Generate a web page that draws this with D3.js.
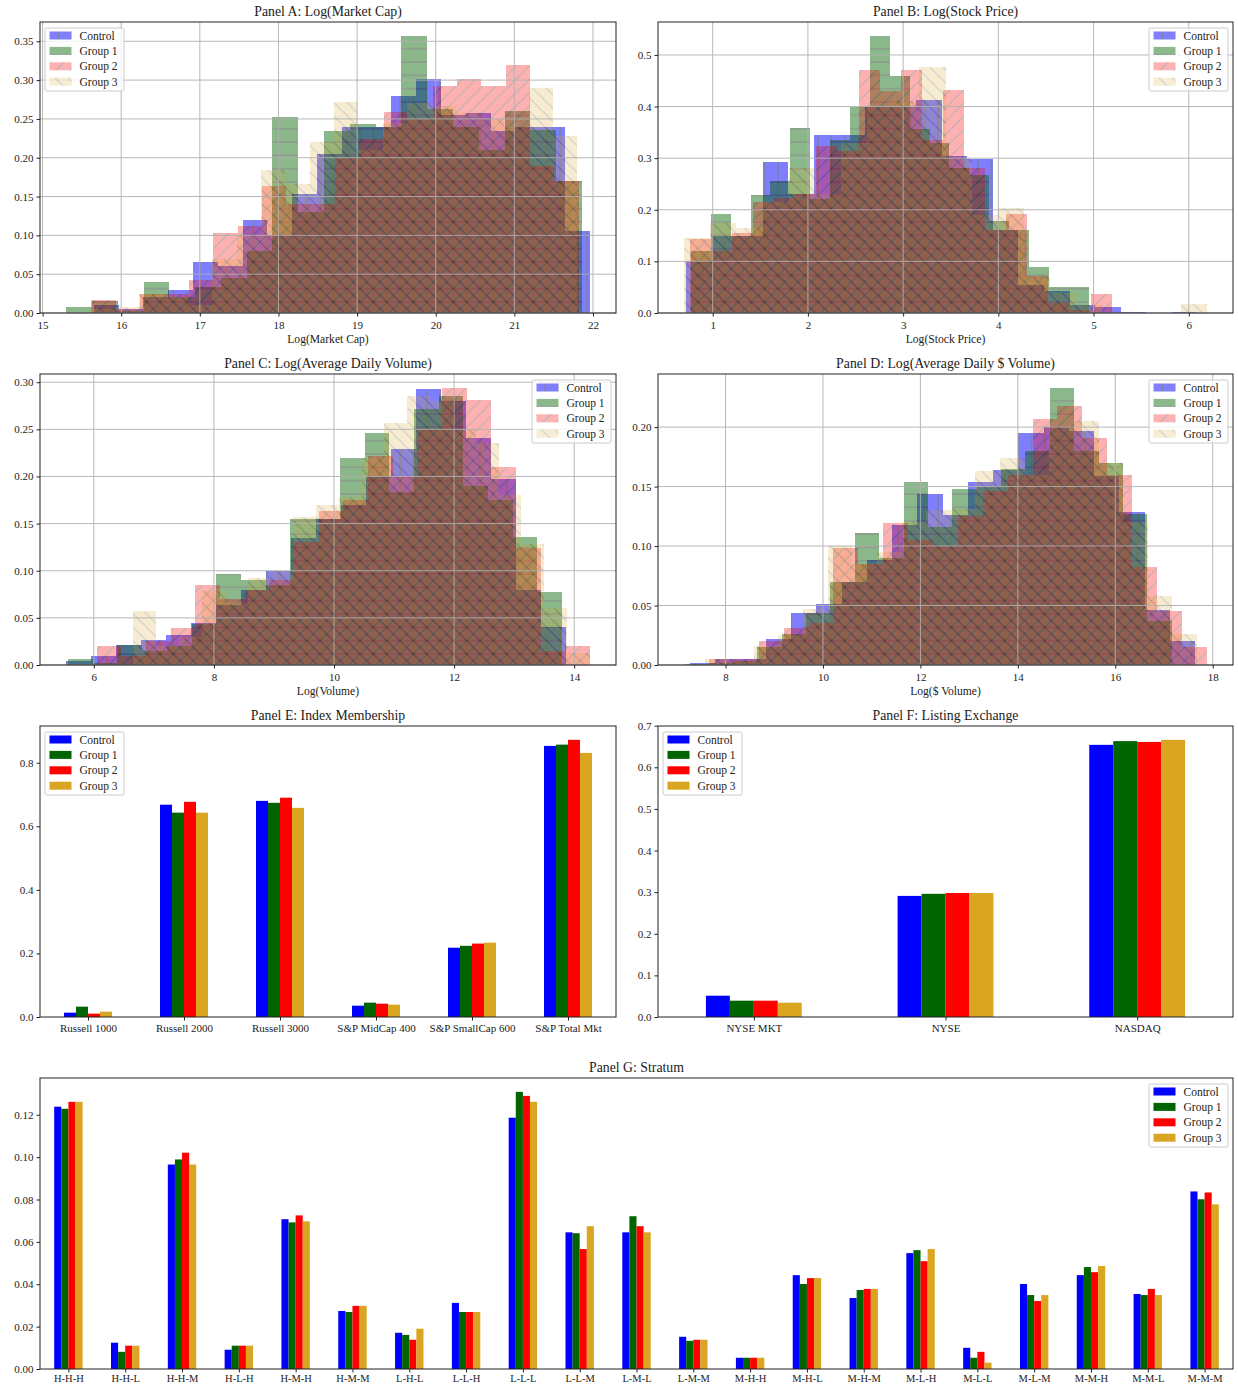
<!DOCTYPE html>
<html lang="en">
<head>
<meta charset="utf-8">
<title>Panels A-G</title>
<script src="https://cdnjs.cloudflare.com/ajax/libs/d3/7.8.5/d3.min.js"></script>
<style>
  body { margin: 0; background: #fff; }
  svg text { font-family: "Liberation Serif", "DejaVu Serif", serif; fill: #222; }
</style>
</head>
<body>
<script>
// ---- data ----
const groups = ["Control", "Group 1", "Group 2", "Group 3"];

// Panel A: Log(Market Cap) - 20 bins per group between lo and hi
const mcapLo = [15.65, 15.30, 15.62, 15.61];
const mcapHi = [21.96, 21.86, 21.82, 21.80];
const mcapControl = [0.010, 0.005, 0.020, 0.030, 0.066, 0.060, 0.120, 0.100, 0.153, 0.205, 0.240, 0.240, 0.280, 0.302, 0.255, 0.258, 0.235, 0.240, 0.240, 0.106];
const mcapGroup1 = [0.008, 0.015, 0.003, 0.040, 0.020, 0.033, 0.045, 0.080, 0.252, 0.130, 0.235, 0.243, 0.240, 0.357, 0.263, 0.240, 0.210, 0.260, 0.236, 0.170];
const mcapGroup2 = [0.017, 0.005, 0.025, 0.025, 0.043, 0.103, 0.112, 0.164, 0.140, 0.140, 0.200, 0.224, 0.259, 0.250, 0.293, 0.302, 0.293, 0.320, 0.190, 0.170];
const mcapGroup3 = [0.005, 0.008, 0.025, 0.020, 0.010, 0.069, 0.100, 0.184, 0.166, 0.220, 0.272, 0.210, 0.245, 0.270, 0.267, 0.258, 0.250, 0.240, 0.290, 0.228];

// Panel B: Log(Stock Price)
const priceLo = [0.72, 0.77, 0.76, 0.70];
const priceHi = [6.09, 4.95, 5.19, 6.19];
const priceControl = [0.100, 0.150, 0.150, 0.292, 0.230, 0.344, 0.344, 0.400, 0.400, 0.413, 0.305, 0.298, 0.160, 0.055, 0.042, 0.015, 0.012, 0.002, 0.000, 0.002];
const priceGroup1 = [0.120, 0.192, 0.150, 0.229, 0.255, 0.358, 0.220, 0.335, 0.400, 0.537, 0.460, 0.357, 0.330, 0.280, 0.268, 0.178, 0.160, 0.089, 0.050, 0.050];
const priceGroup2 = [0.143, 0.120, 0.155, 0.215, 0.223, 0.230, 0.324, 0.313, 0.470, 0.430, 0.470, 0.336, 0.433, 0.280, 0.160, 0.192, 0.072, 0.020, 0.005, 0.036];
const priceGroup3 = [0.145, 0.174, 0.165, 0.215, 0.280, 0.230, 0.330, 0.400, 0.410, 0.477, 0.300, 0.190, 0.203, 0.070, 0.038, 0.015, 0.000, 0.000, 0.000, 0.018];

// Panel C: Log(Average Daily Volume)
const volLo = [5.54, 5.57, 6.05, 6.66];
const volHi = [13.86, 13.80, 14.26, 14.26];
const volControl = [0.004, 0.010, 0.021, 0.027, 0.032, 0.045, 0.064, 0.080, 0.100, 0.135, 0.155, 0.170, 0.200, 0.229, 0.293, 0.280, 0.241, 0.197, 0.080, 0.040];
const volGroup1 = [0.006, 0.002, 0.021, 0.015, 0.020, 0.044, 0.097, 0.090, 0.085, 0.155, 0.155, 0.220, 0.246, 0.183, 0.272, 0.285, 0.190, 0.175, 0.136, 0.077];
const volGroup2 = [0.020, 0.010, 0.025, 0.039, 0.085, 0.070, 0.080, 0.090, 0.131, 0.163, 0.175, 0.222, 0.200, 0.250, 0.294, 0.281, 0.210, 0.124, 0.015, 0.020];
const volGroup3 = [0.057, 0.020, 0.030, 0.078, 0.065, 0.092, 0.100, 0.157, 0.170, 0.178, 0.220, 0.257, 0.285, 0.280, 0.250, 0.235, 0.180, 0.128, 0.060, 0.013];

// Panel D: Log(Average Daily $ Volume)
const dvolLo = [7.27, 7.15, 7.66, 7.57];
const dvolHi = [17.64, 17.16, 17.88, 17.68];
const dvolControl = [0.002, 0.005, 0.005, 0.022, 0.044, 0.051, 0.070, 0.088, 0.118, 0.144, 0.126, 0.154, 0.164, 0.195, 0.200, 0.197, 0.159, 0.129, 0.046, 0.020];
const dvolGroup1 = [0.001, 0.002, 0.003, 0.015, 0.026, 0.044, 0.070, 0.111, 0.090, 0.154, 0.116, 0.148, 0.150, 0.165, 0.180, 0.233, 0.180, 0.170, 0.127, 0.037];
const dvolGroup2 = [0.005, 0.005, 0.020, 0.031, 0.035, 0.098, 0.085, 0.119, 0.105, 0.100, 0.125, 0.146, 0.160, 0.207, 0.218, 0.191, 0.160, 0.082, 0.045, 0.015];
const dvolGroup3 = [0.005, 0.003, 0.016, 0.025, 0.047, 0.100, 0.085, 0.095, 0.120, 0.130, 0.131, 0.163, 0.174, 0.160, 0.200, 0.205, 0.170, 0.120, 0.058, 0.026];

// Panel E: Index Membership
const indexCats = ["Russell 1000", "Russell 2000", "Russell 3000", "S&P MidCap 400", "S&P SmallCap 600", "S&P Total Mkt"];
const indexControl = [0.0136, 0.668, 0.680, 0.0356, 0.218, 0.853];
const indexGroup1 = [0.0325, 0.643, 0.674, 0.0451, 0.224, 0.857];
const indexGroup2 = [0.0105, 0.677, 0.690, 0.0419, 0.231, 0.872];
const indexGroup3 = [0.0168, 0.643, 0.658, 0.0388, 0.234, 0.831];

// Panel F: Listing Exchange
const exchCats = ["NYSE MKT", "NYSE", "NASDAQ"];
const exchControl = [0.0512, 0.291, 0.654];
const exchGroup1 = [0.0392, 0.296, 0.663];
const exchGroup2 = [0.0392, 0.298, 0.661];
const exchGroup3 = [0.0344, 0.298, 0.666];

// Panel G: Stratum
const stratCats = ["H-H-H", "H-H-L", "H-H-M", "H-L-H", "H-M-H", "H-M-M", "L-H-L", "L-L-H", "L-L-L", "L-L-M", "L-M-L",
                   "L-M-M", "M-H-H", "M-H-L", "M-H-M", "M-L-H", "M-L-L", "M-L-M", "M-M-H", "M-M-L", "M-M-M"];
const stratControl = [0.1238, 0.0124, 0.0965, 0.0091, 0.0707, 0.0274, 0.0171, 0.0312, 0.1186, 0.0645, 0.0645, 0.0152, 0.0053, 0.0443, 0.0335, 0.0547, 0.0100, 0.0401, 0.0443, 0.0354, 0.0838];
const stratGroup1 = [0.1228, 0.0081, 0.0989, 0.0110, 0.0692, 0.0269, 0.0161, 0.0269, 0.1308, 0.0641, 0.0721, 0.0133, 0.0053, 0.0401, 0.0373, 0.0561, 0.0053, 0.0349, 0.0481, 0.0349, 0.0801];
const stratGroup2 = [0.1261, 0.0110, 0.1021, 0.0110, 0.0725, 0.0298, 0.0138, 0.0269, 0.1289, 0.0566, 0.0674, 0.0138, 0.0053, 0.0429, 0.0378, 0.0509, 0.0081, 0.0321, 0.0457, 0.0378, 0.0833];
const stratGroup3 = [0.1261, 0.0110, 0.0965, 0.0110, 0.0697, 0.0298, 0.0190, 0.0269, 0.1261, 0.0674, 0.0645, 0.0138, 0.0053, 0.0429, 0.0378, 0.0566, 0.0030, 0.0349, 0.0486, 0.0349, 0.0777];

// ---- styles ----
const colors = ["#0000ff", "#006400", "#ff0000", "#daa520"];
const alphas = [0.5, 0.45, 0.3, 0.2];
const hatchKinds = ["|", "-", "/", "\\"];

const W = 1238, H = 1384;
const svg = d3.select("body").append("svg").attr("width", W).attr("height", H);
const defs = svg.append("defs");

// hatch patterns (one line every 13.33px, black over the face colour)
const hs = 40 / 3;
colors.forEach(function(c, i) {
    const p = defs.append("pattern")
        .attr("id", "hatch" + i)
        .attr("patternUnits", "userSpaceOnUse")
        .attr("width", hs).attr("height", hs);
    p.append("rect").attr("width", hs).attr("height", hs).attr("fill", c);
    let segs;
    if (hatchKinds[i] == "|") segs = [[0, 0, 0, hs], [hs, 0, hs, hs]];
    else if (hatchKinds[i] == "-") segs = [[0, 0, hs, 0], [0, hs, hs, hs]];
    else if (hatchKinds[i] == "/") segs = [[0, hs, hs, 0], [-1, 1, 1, -1], [hs - 1, hs + 1, hs + 1, hs - 1]];
    else segs = [[0, 0, hs, hs], [-1, hs - 1, 1, hs + 1], [hs - 1, -1, hs + 1, 1]];
    segs.forEach(function(s) {
        p.append("line").attr("x1", s[0]).attr("y1", s[1]).attr("x2", s[2]).attr("y2", s[3])
            .attr("stroke", "#000").attr("stroke-width", 1);
    });
});

const colL = {x: 40, w: 576}, colR = {x: 658, w: 575};
const rowTop = [22, 374, 726, 1078];
const axH = 291;

function title(g, w, txt) {
    g.append("text").attr("x", w / 2).attr("y", -6)
        .attr("text-anchor", "middle").attr("font-size", 13.8).text(txt);
}

function frame(g, w, h) {
    g.append("rect").attr("width", w).attr("height", h)
        .attr("fill", "none").attr("stroke", "#222").attr("stroke-width", 1);
}

function legend(g, w, side, hatched) {
    const bw = 79, bh = 63;
    const lg = g.append("g")
        .attr("transform", "translate(" + (side == "left" ? 5 : w - 5 - bw) + ",6)");
    lg.append("rect").attr("width", bw).attr("height", bh).attr("rx", 2)
        .attr("fill", "#fff").attr("fill-opacity", 0.8)
        .attr("stroke", "#ccc").attr("stroke-width", 1);
    groups.forEach(function(name, i) {
        const cy = 7.5 + i * 15.4;
        lg.append("rect").attr("x", 4.5).attr("y", cy - 4).attr("width", 22).attr("height", 8)
            .attr("fill", hatched ? "url(#hatch" + i + ")" : colors[i])
            .attr("opacity", hatched ? alphas[i] : 1);
        lg.append("text").attr("x", 34.5).attr("y", cy).attr("dy", "0.35em")
            .attr("font-size", 11.5).text(name);
    });
}

function axes(g, x, y, w, h, xTicks, yTicks, yFmt, xLabels, xFont, xDy) {
    const xa = g.append("g").attr("transform", "translate(0," + h + ")")
        .call(d3.axisBottom(x).tickValues(xTicks).tickSizeOuter(0).tickSize(3.5)
            .tickFormat(function(d, i) { return xLabels ? xLabels[i] : d; }));
    xa.select(".domain").remove();
    xa.selectAll("text").attr("font-size", xFont).attr("dy", xDy).attr("fill", "#222")
        .attr("font-family", "Liberation Serif, DejaVu Serif, serif");
    xa.selectAll("line").attr("stroke", "#222");
    const ya = g.append("g")
        .call(d3.axisLeft(y).tickValues(yTicks).tickSizeOuter(0).tickSize(3.5).tickFormat(d3.format(yFmt)));
    ya.select(".domain").remove();
    ya.selectAll("text").attr("font-size", 11).attr("fill", "#222")
        .attr("font-family", "Liberation Serif, DejaVu Serif, serif");
    ya.selectAll("line").attr("stroke", "#222");
    frame(g, w, h);
}

function histPanel(col, row, txt, xlabel, los, his, series, xTicks, yTicks, yFmt, side) {
    const w = col.w, h = axH;
    const g = svg.append("g").attr("transform", "translate(" + col.x + "," + rowTop[row] + ")");
    const xmin = d3.min(los), xmax = d3.max(his), pad = (xmax - xmin) * 0.05;
    const ymax = d3.max(series, function(s) { return d3.max(s); }) * 1.05;
    const x = d3.scaleLinear().domain([xmin - pad, xmax + pad]).range([0, w]);
    const y = d3.scaleLinear().domain([0, ymax]).range([h, 0]);

    series.forEach(function(vals, i) {
        const step = (his[i] - los[i]) / vals.length;
        g.append("g").attr("opacity", alphas[i])
            .selectAll("rect").data(vals).enter().append("rect")
            .attr("x", function(d, k) { return x(los[i] + k * step); })
            .attr("width", function(d, k) { return x(los[i] + (k + 1) * step) - x(los[i] + k * step); })
            .attr("y", function(d) { return y(d); })
            .attr("height", function(d) { return h - y(d); })
            .attr("fill", "url(#hatch" + i + ")")
            .attr("shape-rendering", "crispEdges");
    });

    // grid sits above the bars, like the matplotlib default
    const grid = g.append("g").attr("stroke", "#b0b0b0").attr("stroke-width", 1).attr("opacity", 0.9);
    xTicks.forEach(function(t) {
        grid.append("line").attr("x1", x(t)).attr("x2", x(t)).attr("y1", 0).attr("y2", h);
    });
    yTicks.forEach(function(t) {
        grid.append("line").attr("x1", 0).attr("x2", w).attr("y1", y(t)).attr("y2", y(t));
    });

    axes(g, x, y, w, h, xTicks, yTicks, yFmt, null, 11, "0.85em");
    g.append("text").attr("x", w / 2).attr("y", h + 30).attr("text-anchor", "middle")
        .attr("font-size", 11.6).text(xlabel);
    title(g, w, txt);
    legend(g, w, side, true);
}

function barPanel(col, row, txt, cats, series, yTicks, yFmt, side, xFont, xDy) {
    const w = col.w, h = axH;
    const g = svg.append("g").attr("transform", "translate(" + col.x + "," + rowTop[row] + ")");
    const x = d3.scaleLinear().domain([-0.5, cats.length - 0.5]).range([0, w]);
    const ymax = d3.max(series, function(s) { return d3.max(s); }) * 1.05;
    const y = d3.scaleLinear().domain([0, ymax]).range([h, 0]);
    const bw = 0.125;
    series.forEach(function(vals, i) {
        g.append("g").selectAll("rect").data(vals).enter().append("rect")
            .attr("x", function(d, k) { return x(k + (i - 2) * bw); })
            .attr("width", function(d, k) { return x(k + (i - 1) * bw) - x(k + (i - 2) * bw); })
            .attr("y", function(d) { return y(d); })
            .attr("height", function(d) { return h - y(d); })
            .attr("fill", colors[i]);
    });
    axes(g, x, y, w, h, d3.range(cats.length), yTicks, yFmt, cats, xFont, xDy);
    title(g, w, txt);
    legend(g, w, side, false);
}

histPanel(colL, 0, "Panel A: Log(Market Cap)", "Log(Market Cap)", mcapLo, mcapHi,
    [mcapControl, mcapGroup1, mcapGroup2, mcapGroup3], d3.range(15, 23), d3.range(0, 0.351, 0.05), ".2f", "left");
histPanel(colR, 0, "Panel B: Log(Stock Price)", "Log(Stock Price)", priceLo, priceHi,
    [priceControl, priceGroup1, priceGroup2, priceGroup3], d3.range(1, 7), d3.range(0, 0.51, 0.1), ".1f", "right");
histPanel(colL, 1, "Panel C: Log(Average Daily Volume)", "Log(Volume)", volLo, volHi,
    [volControl, volGroup1, volGroup2, volGroup3], d3.range(6, 15, 2), d3.range(0, 0.301, 0.05), ".2f", "right");
histPanel(colR, 1, "Panel D: Log(Average Daily $ Volume)", "Log($ Volume)", dvolLo, dvolHi,
    [dvolControl, dvolGroup1, dvolGroup2, dvolGroup3], d3.range(8, 19, 2), d3.range(0, 0.201, 0.05), ".2f", "right");

barPanel(colL, 2, "Panel E: Index Membership", indexCats,
    [indexControl, indexGroup1, indexGroup2, indexGroup3], d3.range(0, 0.81, 0.2), ".1f", "left", 11, "0.75em");
barPanel(colR, 2, "Panel F: Listing Exchange", exchCats,
    [exchControl, exchGroup1, exchGroup2, exchGroup3], d3.range(0, 0.71, 0.1), ".1f", "left", 11, "0.75em");
barPanel({x: 40, w: 1193}, 3, "Panel G: Stratum", stratCats,
    [stratControl, stratGroup1, stratGroup2, stratGroup3], d3.range(0, 0.121, 0.02), ".2f", "right", 10.5, "0.62em");
</script>
</body>
</html>
